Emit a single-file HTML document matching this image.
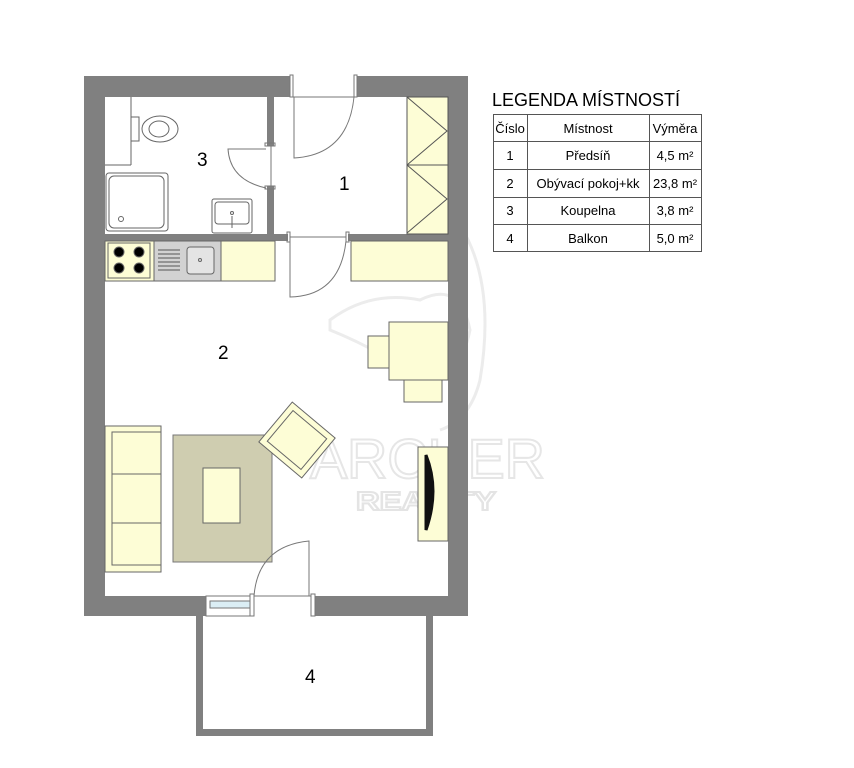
<!DOCTYPE html>
<html><head><meta charset="utf-8"><style>
html,body{margin:0;padding:0;background:#fff;}
svg{display:block;font-family:"Liberation Sans",sans-serif;}
</style></head><body>
<svg width="854" height="768" viewBox="0 0 854 768" xmlns="http://www.w3.org/2000/svg">
<!-- watermark -->
<g fill="none" stroke="#ececec" stroke-width="3">
<path d="M330 320 Q370 290 420 300 Q460 280 470 330 Q460 380 420 380 Q380 350 330 330 Z"/>
<path d="M440 200 Q500 260 480 380 Q470 420 440 430"/>
</g>
<text x="310" y="478" font-size="56" fill="none" stroke="#e6e6e6" stroke-width="2" textLength="235" lengthAdjust="spacing" transform="scale(1 1)">ARCHER</text>
<text x="356" y="510" font-size="26" fill="none" stroke="#e4e4e4" stroke-width="2" font-weight="bold" textLength="140" lengthAdjust="spacingAndGlyphs">REALITY</text>

<!-- outer walls -->
<path fill="#808080" fill-rule="evenodd" d="M84 76 H468 V616 H84 Z M105 97 V596 H448 V97 Z"/>
<rect x="290" y="74" width="67" height="24" fill="#fff"/>
<rect x="208" y="595" width="105" height="23" fill="#fff"/>
<g stroke="#777" fill="none" stroke-width="1">
<line x1="292" y1="97" x2="355" y2="97"/>
<rect x="290" y="75" width="3" height="22"/><rect x="354" y="75" width="3" height="22"/>
<path d="M294 97 V158 Q348 155 354 97"/>
</g>
<rect x="267" y="97" width="7" height="140" fill="#808080"/>
<rect x="105" y="234" width="343" height="7" fill="#808080"/>
<rect x="266" y="146" width="10" height="40" fill="#fff"/>
<rect x="288" y="232" width="60" height="11" fill="#fff"/>
<g stroke="#777" fill="none" stroke-width="1">
<rect x="265" y="143" width="10" height="3"/><rect x="265" y="186" width="10" height="3"/>
<line x1="271" y1="146" x2="271" y2="186"/>
<path d="M266 149 H228 Q230 180 266 188"/>
<rect x="287" y="232" width="3" height="10"/><rect x="346" y="232" width="3" height="10"/>
<line x1="290" y1="237" x2="346" y2="237"/>
<path d="M290 240 V297 Q340 296 346 241"/>
</g>
<g stroke="#555" fill="#fdfdd6" stroke-width="1">
<rect x="407" y="97" width="41" height="68"/><rect x="407" y="165" width="41" height="69"/>
<path d="M407 97 L447 131 L407 165 M407 165 L447 199 L407 233" fill="none"/>
</g>
<g stroke="#666" fill="#fff" stroke-width="1">
<line x1="131" y1="97" x2="131" y2="165"/><line x1="105" y1="165" x2="131" y2="165"/>
<rect x="131" y="117" width="8" height="24"/>
<ellipse cx="160" cy="129" rx="18" ry="13"/><ellipse cx="159" cy="129" rx="10" ry="8"/>
<rect x="106" y="173" width="62" height="58" rx="3"/><rect x="109" y="176" width="55" height="52" rx="5"/>
<circle cx="121" cy="219" r="2.5"/>
<rect x="212" y="199" width="40" height="34" rx="2"/><rect x="215" y="202" width="34" height="22" rx="3"/>
<circle cx="232" cy="213" r="1.5"/><line x1="232" y1="216" x2="232" y2="228"/>
</g>
<g stroke="#666" stroke-width="1">
<rect x="105" y="241" width="49" height="40" fill="#fdfdd6"/>
<rect x="108" y="243" width="42" height="35" fill="#fdfdd6"/>
<circle cx="119" cy="252" r="5" fill="#000"/><circle cx="139" cy="252" r="5" fill="#000"/>
<circle cx="119" cy="268" r="5" fill="#000"/><circle cx="139" cy="268" r="5" fill="#000"/>
<rect x="154" y="241" width="67" height="40" fill="#d2d2d2"/>
<rect x="187" y="247" width="27" height="27" rx="3" fill="#e4e4e4"/>
<circle cx="200" cy="260" r="1.5" fill="none"/>
<rect x="221" y="241" width="54" height="40" fill="#fdfdd6"/>
<rect x="351" y="241" width="97" height="40" fill="#fdfdd6"/>
</g>
<g stroke="#555"><line x1="158" y1="250" x2="180" y2="250"/><line x1="158" y1="254" x2="180" y2="254"/><line x1="158" y1="258" x2="180" y2="258"/><line x1="158" y1="262" x2="180" y2="262"/><line x1="158" y1="266" x2="180" y2="266"/><line x1="158" y1="270" x2="180" y2="270"/></g>
<g stroke="#666" fill="#fdfdd6" stroke-width="1">
<rect x="368" y="336" width="22" height="32"/><rect x="404" y="380" width="38" height="22"/>
<rect x="389" y="322" width="59" height="58"/>
</g>
<g stroke="#666" fill="#fdfdd6" stroke-width="1">
<rect x="105" y="426" width="56" height="146"/>
<rect x="112" y="432" width="49" height="42"/><rect x="112" y="474" width="49" height="49"/><rect x="112" y="523" width="49" height="42"/>
</g>
<rect x="173" y="435" width="99" height="127" fill="#cfcdb0" stroke="#777"/>
<rect x="203" y="468" width="37" height="55" fill="#fdfdd6" stroke="#666"/>
<g transform="translate(297 440) rotate(40)" stroke="#666" fill="#fdfdd6">
<rect x="-28" y="-26" width="56" height="52"/><rect x="-22" y="-20" width="44" height="40"/>
</g>
<rect x="418" y="447" width="30" height="94" fill="#fdfdd6" stroke="#666"/>
<path d="M426 455 Q440 490 426 530 Z" fill="#111" stroke="#111" stroke-width="3"/>
<g stroke="#777" fill="#fff" stroke-width="1">
<rect x="206" y="596" width="48" height="20"/>
<rect x="210" y="601" width="42" height="7" fill="#dbeef5"/>
<rect x="250" y="594" width="4" height="22"/><rect x="311" y="594" width="4" height="22"/>
<line x1="254" y1="596" x2="311" y2="596"/>
<path d="M254 616 V596 Q258 546 309 541 V596" fill="none"/>
</g>
<path fill="#808080" fill-rule="evenodd" d="M196 616 H433 V736 H196 Z M203 616 V729 H426 V616 Z"/>
<g font-size="19" fill="#000">
<text x="197" y="166">3</text><text x="339" y="190">1</text>
<text x="218" y="359">2</text><text x="305" y="683">4</text>
</g>
<text x="492" y="106" font-size="18" fill="#000">LEGENDA MÍSTNOSTÍ</text>
<g stroke="#555" stroke-width="1" fill="none">
<rect x="493.5" y="114.5" width="208" height="137"/>
<line x1="527.5" y1="114" x2="527.5" y2="252"/><line x1="649.5" y1="114" x2="649.5" y2="252"/>
<line x1="493" y1="141.5" x2="701" y2="141.5"/><line x1="493" y1="169.5" x2="701" y2="169.5"/>
<line x1="493" y1="197.5" x2="701" y2="197.5"/><line x1="493" y1="224.5" x2="701" y2="224.5"/>
</g>
<g font-size="13" fill="#000" text-anchor="middle">
<text x="510" y="133">Číslo</text><text x="588" y="133">Místnost</text><text x="675" y="133">Výměra</text>
<text x="510" y="160">1</text><text x="588" y="160">Předsíň</text><text x="675" y="160">4,5 m²</text>
<text x="510" y="188">2</text><text x="588" y="188">Obývací pokoj+kk</text><text x="675" y="188">23,8 m²</text>
<text x="510" y="215">3</text><text x="588" y="215">Koupelna</text><text x="675" y="215">3,8 m²</text>
<text x="510" y="243">4</text><text x="588" y="243">Balkon</text><text x="675" y="243">5,0 m²</text>
</g>
</svg>
</body></html>
